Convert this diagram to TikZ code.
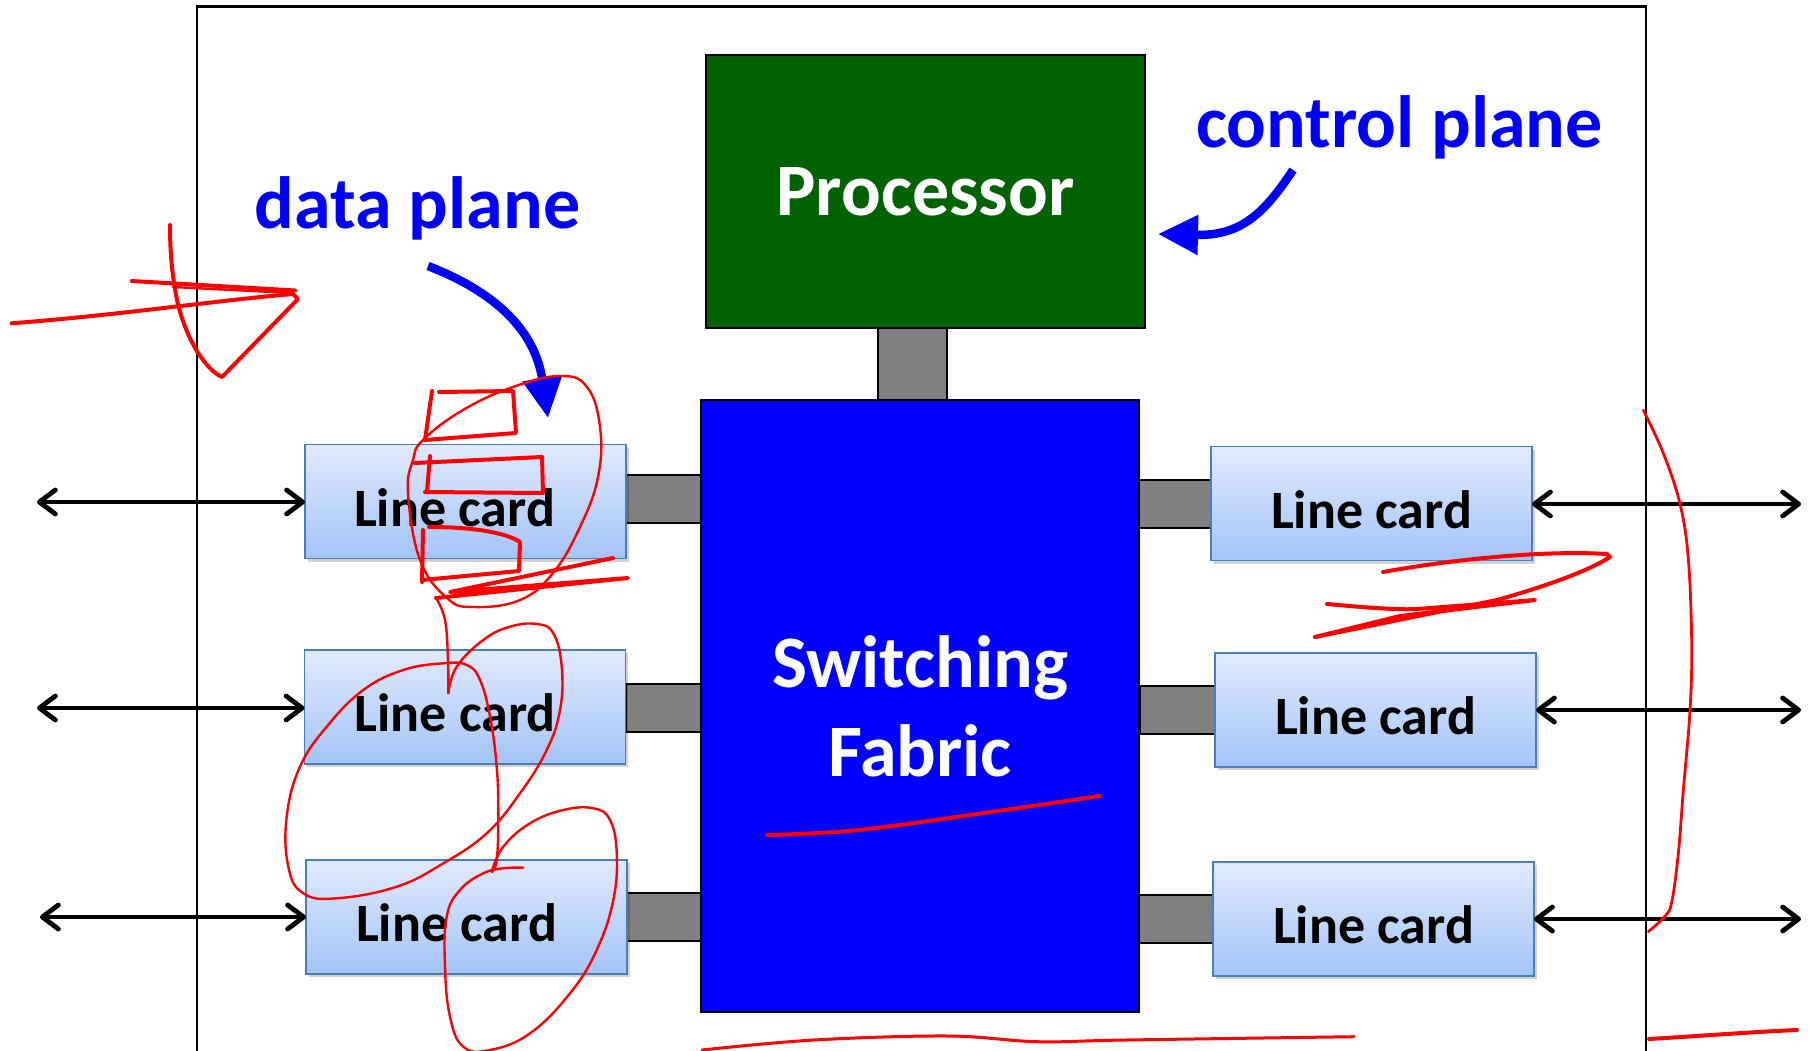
\documentclass[tikz,border=0pt]{standalone}
\usepackage{fontspec}
\setmainfont{Carlito}
\usetikzlibrary{arrows.meta}
\definecolor{procgreen}{RGB}{0,98,0}
\definecolor{lcborder}{RGB}{74,126,187}
\definecolor{lctop}{RGB}{224,234,253}
\definecolor{lcbot}{RGB}{163,196,248}
\definecolor{conngray}{RGB}{128,128,128}
\definecolor{inkred}{RGB}{255,0,0}
\definecolor{lblblue}{RGB}{0,0,255}
\begin{document}
\begin{tikzpicture}[x=1pt,y=-1pt,
  bigbox/.style={draw=black, line width=2.5pt, inner sep=0pt, outer sep=0pt,
    text=white, font=\fontsize{74}{89}\selectfont\bfseries, align=center},
  linecard/.style={draw=lcborder, line width=1.8pt, top color=lctop, bottom color=lcbot,
    minimum width=321pt, minimum height=114pt, inner sep=0pt, outer sep=0pt,
    font=\fontsize{54}{60}\selectfont\bfseries, text height=49pt, text depth=0pt,
    preaction={fill=black, opacity=0.18, transform canvas={xshift=2.5pt,yshift=-3pt}}},
  conn/.style={draw=black, line width=2pt, fill=conngray, inner sep=0pt, outer sep=0pt,
    minimum width=75pt, minimum height=48pt},
  dbl/.style={line width=4.8pt, line cap=round,
    {Straight Barb[length=16pt,width=24pt,line width=4.8pt,round]}-{Straight Barb[length=16pt,width=24pt,line width=4.8pt,round]}},
  lbl/.style={text=lblblue, font=\fontsize{74}{89}\selectfont\bfseries, anchor=base, inner sep=0pt},
  bluearrow/.style={draw=lblblue, line width=8.5pt, -{Triangle[length=40pt,width=38pt]}},
  ink/.style={draw=inkred, line width=4pt, line cap=round, line join=round},
  thinink/.style={draw=inkred, line width=2.4pt, line cap=round, line join=round}
]
\useasboundingbox (0,0) rectangle (1814,1051);
\fill[white] (0,0) rectangle (1814,1051);

% outer frame
\draw[line width=2.2pt] (197,1051) -- (197,6.5) -- (1646,6.5) -- (1646,1051);

% connectors (drawn first, boxes overlap their ends)
\node[conn, minimum width=69pt, minimum height=74pt] (cP) at (912.5,364) {};
\node[conn] (cL1) at (663.5,499) {};
\node[conn] (cL2) at (663.5,708) {};
\node[conn] (cL3) at (664,916.5) {};
\node[conn] (cR1) at (1173.5,503.5) {};
\node[conn] (cR2) at (1177,710) {};
\node[conn] (cR3) at (1176,919) {};

% processor and switching fabric
\node[bigbox, fill=procgreen, minimum width=439pt, minimum height=273pt] (proc) at (925.5,191.5) {Processor};
\node[bigbox, fill=lblblue, minimum width=438pt, minimum height=612pt] (sw) at (920,706) {Switching\\Fabric};

% line cards
\node[linecard] (L1) at (465.5,501.5) {\hspace*{-22pt}Line card};
\node[linecard] (L2) at (465,707) {\hspace*{-20pt}Line card};
\node[linecard] (L3) at (466.5,917) {\hspace*{-20pt}Line card};
\node[linecard] (R1) at (1371.5,503.5) {Line card};
\node[linecard] (R2) at (1375.5,710) {Line card};
\node[linecard] (R3) at (1373.5,919) {Line card};

% external links
\coordinate (a1) at (37,502);
\coordinate (a2) at (37,708);
\coordinate (a3) at (40,917);
\coordinate (b1) at (1801,504);
\coordinate (b2) at (1801,710);
\coordinate (b3) at (1801,919);
\draw[dbl] (a1) -- (a1 -| L1.west);
\draw[dbl] (a2) -- (a2 -| L2.west);
\draw[dbl] (a3) -- (a3 -| L3.west);
\draw[dbl] (b1 -| R1.east) -- (b1);
\draw[dbl] (b2 -| R2.east) -- (b2);
\draw[dbl] (b3 -| R3.east) -- (b3);

% plane labels
\node[lbl] (dp) at (417.5,229) {data plane};
\node[lbl] (cp) at (1399.5,148) {control plane};
\coordinate (dpS) at (428,266);
\coordinate (dpE) at (548,418);
\coordinate (cpS) at (1293,170);
\coordinate (cpE) at (1158,234);
\draw[bluearrow] (dpS) .. controls (495,292) and (535,330) .. (dpE);
\draw[bluearrow] (cpS) .. controls (1265,212) and (1242,236) .. (cpE);

% ---- red hand annotations ----
% left scribble
\draw[ink] (131.7,281) -- (295,290.5);
\draw[thinink] (173,287) -- (293,293);
\draw[ink] (11.7,323.3) .. controls (120,315) and (220,300) .. (293,294) -- (298,299)
  -- (222,377) .. controls (206,370) and (186,340) .. (177,300) .. controls (171,270) and (170,245) .. (170,225);
% line card 1 strokes
\draw[ink] (432,391) -- (425,440);
\draw[ink] (439,392) -- (513,391) -- (516,433) -- (425,440);
\draw[ink] (415,463) -- (542,457) -- (543,493) -- (425,492);
\draw[ink] (430,456) -- (427,492);
\draw[ink] (429,527) .. controls (470,527) and (505,532) .. (520,542) -- (519,571) -- (422,580);
\draw[ink] (423,530) -- (422,582);
\draw[thinink] plot[smooth cycle, tension=0.7] coordinates {(423,440) (463,410) (513,387) (560,376) (587,387) (600,427) (598,477) (580,527) (553,573) (520,600) (473,607) (447,598) (420,560) (408,493) (413,460)};
\draw[ink] (613,558) -- (450,592) -- (628,578) -- (436,598);
% descending loops through line cards 2 and 3
\draw[thinink] plot[smooth, tension=0.7] coordinates {(436,598) (445,620) (448,660) (448.3,693)};
\draw[thinink] plot[smooth, tension=0.7] coordinates {(448.3,693.3) (456.7,666.7) (483.3,640) (510,626.7) (536.7,624) (553.3,633.3) (561.7,666.7) (560,710) (546.7,750) (520,793.3) (486.7,833.3) (443.3,863.3) (396.7,886.7) (336.7,898.3) (303.3,893.3) (288.3,866.7) (286.7,816.7) (300,766.7) (326.7,726.7) (363.3,690) (403.3,670) (443.3,663.3) (466.7,665) (480,680) (490,716.7) (496.7,766.7) (498.3,816.7) (496.7,860) (491.7,871.7)};
\draw[thinink] plot[smooth, tension=0.7] coordinates {(491.7,871.7) (503.3,846.7) (530,823.3) (563.3,810) (593.3,808.3) (610,820) (616.7,853.3) (613.3,900) (596.7,950) (570,993.3) (530,1033.3) (490,1050) (463.3,1046.7) (450,1016.7) (445,966.7) (446.7,916.7) (460,890) (483.3,873.3) (503.3,868.3) (523.3,867.7)};
% right scribble
\draw[ink] (1383,572) .. controls (1450,560) and (1540,550) .. (1607,554) -- (1610,557)
  .. controls (1590,570) and (1550,585) .. (1497,600) -- (1315,637);
\draw[ink] (1327,604) .. controls (1370,608) and (1400,610) .. (1417,609) -- (1535,600) -- (1400,616) -- (1315,637);
% right bracket
\draw[thinink, line width=2.8pt] plot[smooth, tension=0.6] coordinates {(1643.3,410.2) (1663.3,453.2) (1680,503.8) (1688.3,558.6) (1691.7,643) (1690,710.4) (1683.3,790.5) (1678.3,853.7) (1671.7,902.2) (1665,916.1) (1648.3,931.7)};
\draw[ink] (1649,1039) .. controls (1700,1036) and (1750,1032) .. (1797,1030);
% underline in switching fabric
\draw[ink] plot[smooth, tension=0.6] coordinates {(767,835) (858.6,830) (992.5,811.7) (1099.6,796)};
% bottom line
\draw[ink, line width=3pt] plot[smooth, tension=0.6] coordinates {(702,1050) (814,1040) (948,1036) (1037,1041.7) (1126,1040) (1354,1036.7)};
\end{tikzpicture}
\end{document}
